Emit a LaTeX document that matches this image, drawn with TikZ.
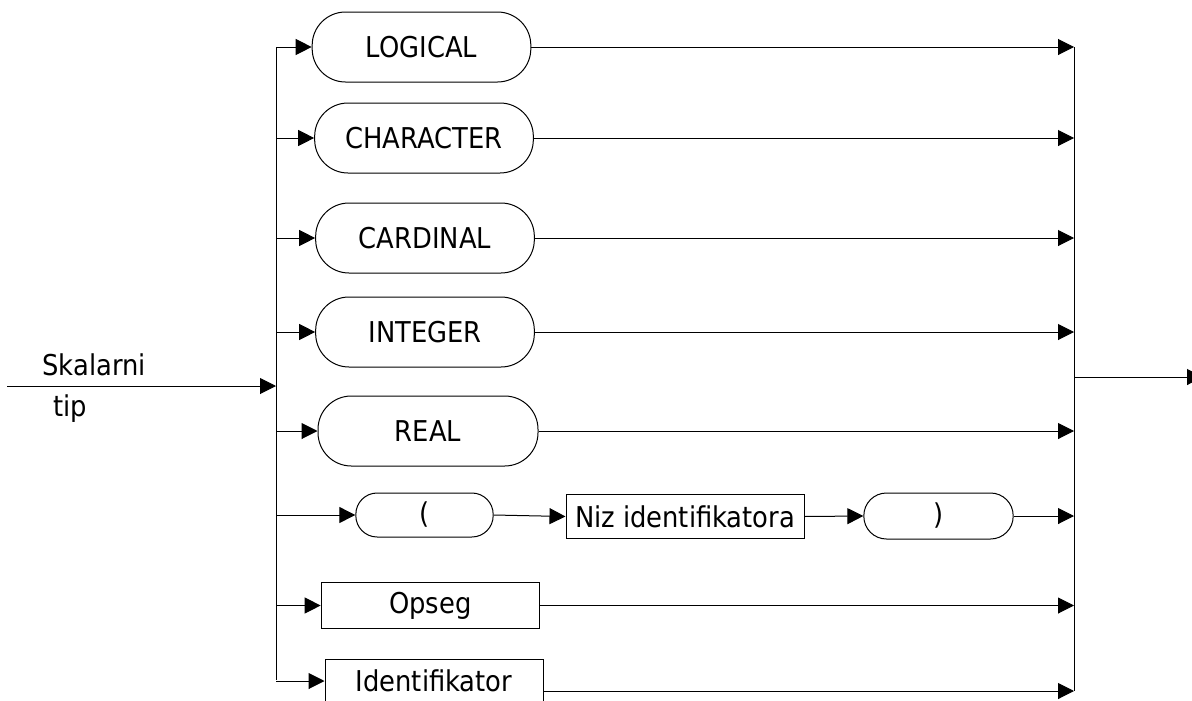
\documentclass[tikz,border=0pt]{standalone}
\usepackage{fontspec}
\setmainfont{DejaVu Sans Condensed}
\usetikzlibrary{arrows.meta}
\begin{document}
\begin{tikzpicture}[x=0.75pt,y=-0.75pt,
  font=\fontsize{21.5}{25}\selectfont,
  line width=0.75pt,
  arr/.style={-{Triangle[length=12pt,width=12pt]}},
  term/.style n args={3}{draw, rounded corners=#3, minimum width=#1, minimum height=#2, inner sep=0pt},
  nonterm/.style n args={2}{draw, minimum width=#1, minimum height=#2, inner sep=0pt},
  lbl/.style={anchor=base west, inner sep=0pt}]
\useasboundingbox (0,0) rectangle (1192,700);
% buses
\coordinate (Lt) at (276,47);
\coordinate (Lb) at (276,680);
\coordinate (Rt) at (1074,47);
\coordinate (Rb) at (1074,691);
\coordinate (in) at (7,386);
\coordinate (inb) at (276,386);
\coordinate (outa) at (1074,377);
\coordinate (outb) at (1203,377);
% nodes
\node[term={164pt}{52.5pt}{25pt}] (log) at (421.5,47) {LOGICAL};
\node[term={164pt}{52.5pt}{25pt}] (chr) at (424,138) {CHARACTER};
\node[term={164pt}{52.5pt}{25pt}] (car) at (425,238) {CARDINAL};
\node[term={164pt}{52.5pt}{25pt}] (int) at (425,332) {INTEGER};
\node[term={165pt}{52.5pt}{25pt}] (rea) at (428,431) {REAL};
\node[term={103pt}{33pt}{16pt}] (lp) at (424.5,515) {(};
\node[nonterm={178.5pt}{32.5pt}] (niz) at (685,516.5) {Niz identifikatora};
\node[term={112pt}{34.5pt}{17pt}] (rp) at (938.5,516) {)};
\node[nonterm={164pt}{34pt}] (ops) at (430.5,605.5) {Opseg};
\node[nonterm={163.5pt}{33pt}] (idf) at (434,681) {Identifikator};
\node[lbl] (sk) at (42,375) {Skalarni};
\node[lbl] (tp) at (53,416) {tip};
% bus lines
\draw (Lt) -- (Lb);
\draw (Rt) -- (Rb);
\draw[arr] (in) -- (inb);
\draw[arr] (outa) -- (outb);
% entries
\foreach \n in {log,chr,car,int,rea,lp,ops,idf}
  \draw[arr] (\n.west -| Lt) -- (\n.west);
% exits
\foreach \n in {log,chr,car,int,rea,ops}
  \draw[arr] (\n.east) -- (\n.east -| Rt);
\draw[arr] (lp.east) -- (niz.west);
\draw[arr] (niz.east) -- (rp.west);
\draw[arr] (rp.east) -- (rp.east -| Rt);
\draw[arr] (idf.east |- Rb) -- (Rb);
\end{tikzpicture}
\end{document}
